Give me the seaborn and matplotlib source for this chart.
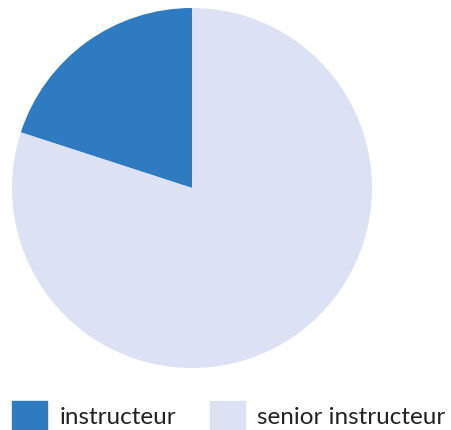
import matplotlib
matplotlib.use('Agg')
import matplotlib.pyplot as plt
import matplotlib.patches as mpatches
import seaborn as sns

# Data
labels = ['instructeur', 'senior instructeur']
values = [20, 80]
colors = ['#2f7bc1', '#dde1f4']

sns.set_theme(style='white')
plt.rcParams['font.family'] = ['Lato', 'DejaVu Sans']

fig = plt.figure(figsize=(4.52, 4.30), dpi=100)
ax = fig.add_axes([12 / 452, (430 - 368) / 430, 360 / 452, 360 / 430])

ax.pie(values, colors=colors, startangle=90, counterclock=True,
       wedgeprops={'linewidth': 0})
ax.set_xlim(-1, 1)
ax.set_ylim(-1, 1)
ax.set_aspect('equal')
ax.axis('off')

handles = [mpatches.Patch(color=c, label=l) for c, l in zip(colors, labels)]
fig.legend(handles=handles, loc='lower left', bbox_to_anchor=(12 / 452, 0.0),
           ncol=2, frameon=False, fontsize=17.5, borderpad=0, borderaxespad=0,
           handlelength=1.45, handleheight=1.45, handletextpad=0.5,
           columnspacing=1.4, labelcolor='#222222')

fig.savefig('out.png', dpi=100)
